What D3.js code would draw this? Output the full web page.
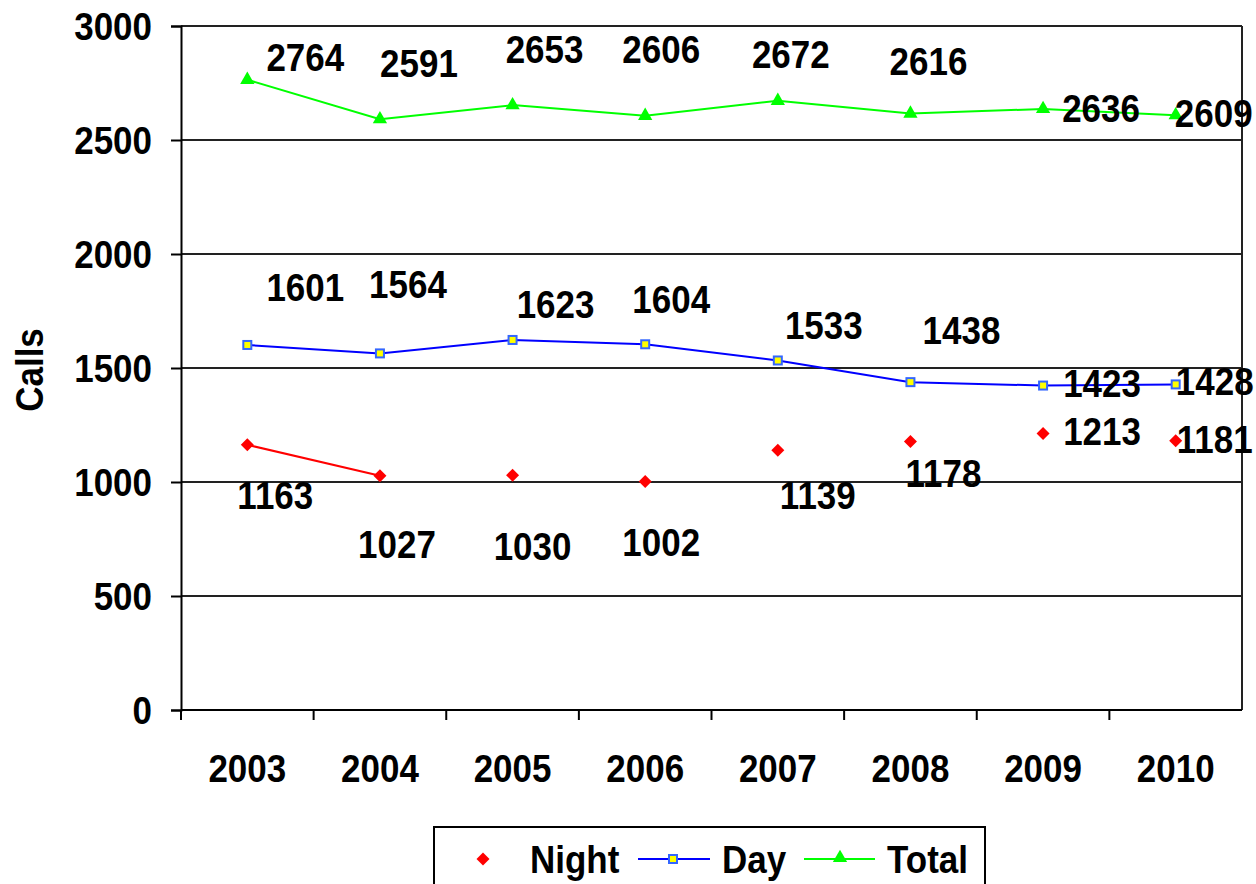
<!DOCTYPE html>
<html><head><meta charset="utf-8">
<script src="https://cdn.jsdelivr.net/npm/d3@7"></script>
<style>body{margin:0;background:#fff}svg{display:block}text{font-family:"Liberation Sans",Arial,sans-serif;font-weight:bold}</style>
</head><body>
<svg id="c" width="1256" height="884"></svg>
<script>
const years = ["2003","2004","2005","2006","2007","2008","2009","2010"];
const night = [1163,1027,1030,1002,1139,1178,1213,1181];
const day = [1601,1564,1623,1604,1533,1438,1423,1428];
const total = [2764,2591,2653,2606,2672,2616,2636,2609];
const yTicks = [0,500,1000,1500,2000,2500,3000];
// label offsets (layout only), relative to each point
const totalLbl = [[58,-9],[39,-42],[32,-42],[16,-53],[13,-33],[18,-39],[58,13],[38,12]];
const dayLbl = [[58,-44],[28,-55],[43,-22],[26,-31],[46,-21],[51,-38],[59,11],[39,11]];
const nightLbl = [[28,64],[17,82],[20,85],[16,74],[40,59],[33,46],[59,12],[39,12]];

const FS = 35, SY = 1.12;
const svg = d3.select("#c");
const L=181,R=1242,T=26,B=710;
const x = d3.scaleBand().domain(years).range([L,R]);
const y = d3.scaleLinear().domain([0,3000]).range([B,T]);
const cx = d => x(d)+x.bandwidth()/2;

function txt(g, px, py, s, anchor){
  return g.append("text").attr("transform",`translate(${px},${py}) scale(1,${SY})`)
    .attr("text-anchor",anchor||"start").attr("font-size",FS).attr("fill","#000").text(s);
}

// gridlines
svg.append("g").selectAll("line").data(yTicks.filter(v=>v>0)).join("line")
  .attr("x1",L).attr("x2",R).attr("y1",d=>y(d)).attr("y2",d=>y(d))
  .attr("stroke","#222").attr("stroke-width",2);
svg.append("line").attr("x1",R).attr("x2",R).attr("y1",T).attr("y2",B).attr("stroke","#222").attr("stroke-width",2);

// y axis
const ya = svg.append("g").attr("transform",`translate(${L},0)`)
  .call(d3.axisLeft(y).tickValues(yTicks).tickSize(10).tickFormat(""));
ya.select(".domain").attr("stroke","#000").attr("stroke-width",2);
ya.selectAll(".tick line").attr("stroke","#000").attr("stroke-width",2);
const yl = svg.append("g");
yTicks.forEach(v=>txt(yl, 152, y(v)+13.5, d3.format("d")(v), "end"));

// x axis
const xa = svg.append("g").attr("transform",`translate(0,${B})`)
  .call(d3.axisBottom(x).tickSize(0).tickFormat(""));
xa.select(".domain").attr("stroke","#000").attr("stroke-width",2).attr("d",`M${L},0H${R}`);
const bounds = years.map(d=>x(d));
svg.append("g").selectAll("line").data(bounds).join("line")
  .attr("x1",d=>d).attr("x2",d=>d).attr("y1",B).attr("y2",B+10).attr("stroke","#000").attr("stroke-width",2);
const xl = svg.append("g");
years.forEach(d=>txt(xl, cx(d), 782, d, "middle"));

// y title
svg.append("text").attr("transform",`translate(43,370) rotate(-90) scale(1,1.1)`).attr("text-anchor","middle")
  .attr("font-size",35).text("Calls");

const line = d3.line().x((d,i)=>cx(years[i])).y(d=>y(d));
svg.append("path").datum(total).attr("d",line).attr("fill","none").attr("stroke","#00ff00").attr("stroke-width",2);
svg.append("path").datum(day).attr("d",line).attr("fill","none").attr("stroke","#0000ff").attr("stroke-width",2);
// night: connected only between the first two points
svg.append("path").datum(night.slice(0,2)).attr("d",line).attr("fill","none").attr("stroke","#ff0000").attr("stroke-width",2);

const tri = d3.symbol().type(d3.symbolTriangle).size(88);
const dia = (px,py,r)=>`M${px},${py-r}L${px+r},${py}L${px},${py+r}L${px-r},${py}Z`;

svg.append("g").selectAll("path").data(total).join("path")
  .attr("d",tri).attr("transform",(d,i)=>`translate(${cx(years[i])},${y(d)})`).attr("fill","#00ff00");
svg.append("g").selectAll("rect").data(day).join("rect")
  .attr("x",(d,i)=>cx(years[i])-4).attr("y",d=>y(d)-4).attr("width",8).attr("height",8)
  .attr("fill","#ffff00").attr("stroke","#3366ff").attr("stroke-width",2);
svg.append("g").selectAll("path").data(night).join("path")
  .attr("d",(d,i)=>dia(cx(years[i]),y(d),6.5)).attr("fill","#ff0000");

function labels(data, off){
  const g = svg.append("g");
  data.forEach((d,i)=>txt(g, cx(years[i])+off[i][0], y(d)+off[i][1], d, "middle"));
}
labels(total,totalLbl); labels(day,dayLbl); labels(night,nightLbl);

// legend
const lg = svg.append("g");
lg.append("rect").attr("x",434).attr("y",827).attr("width",551).attr("height",80).attr("fill","#fff").attr("stroke","#000").attr("stroke-width",2);
lg.append("path").attr("d",dia(483,859,6.5)).attr("fill","#ff0000");
txt(lg, 530, 873, "Night");
lg.append("line").attr("x1",638).attr("x2",710).attr("y1",859).attr("y2",859).attr("stroke","#0000ff").attr("stroke-width",2);
lg.append("rect").attr("x",673-4).attr("y",859-4).attr("width",8).attr("height",8).attr("fill","#ffff00").attr("stroke","#3366ff").attr("stroke-width",2);
txt(lg, 722, 873, "Day");
lg.append("line").attr("x1",804).attr("x2",875).attr("y1",859).attr("y2",859).attr("stroke","#00ff00").attr("stroke-width",2);
lg.append("path").attr("d",tri).attr("transform","translate(840,858)").attr("fill","#00ff00");
txt(lg, 887, 873, "Total");
</script>
</body></html>
